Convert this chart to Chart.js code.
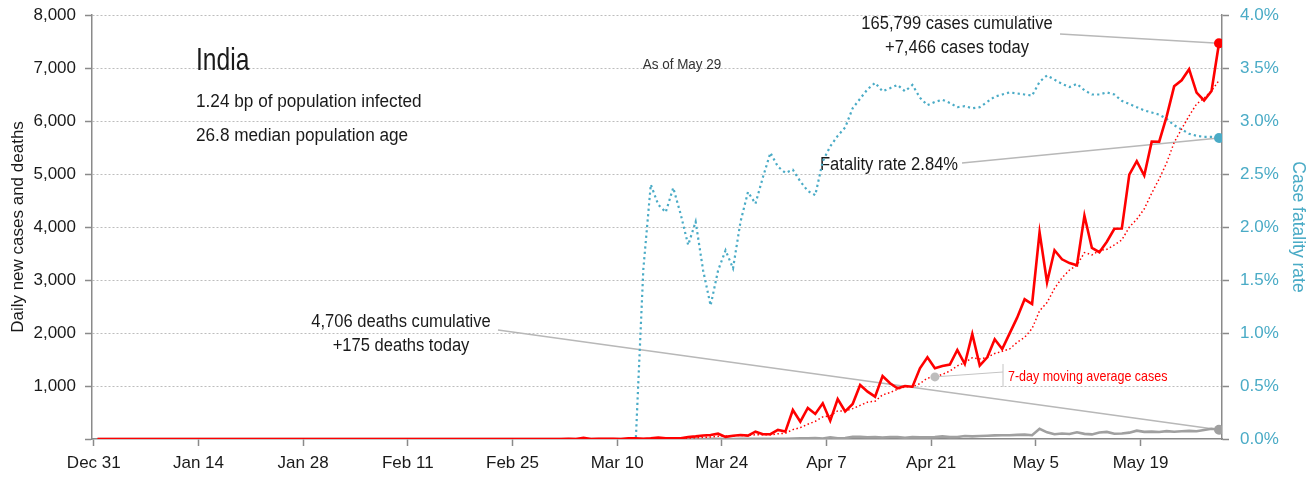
<!DOCTYPE html>
<html>
<head>
<meta charset="utf-8">
<script src="https://cdn.jsdelivr.net/npm/chart.js@4.4.1/dist/chart.umd.min.js"></script>
<style>
html,body{margin:0;padding:0;background:#fff;}
#wrap{width:1312px;height:480px;position:relative;}
</style>
</head>
<body>
<div id="wrap"><canvas id="c"></canvas></div>
<script>
// ---- data (day 0 = Dec 31, day 150 = May 29) ----
const dailyCases = [
  0,0,0,0,0,0,0,0,0,0,
  0,0,0,0,0,0,0,0,0,0,
  0,0,0,0,0,0,0,0,0,0,
  1,0,0,1,1,0,0,0,0,0,
  0,0,0,0,0,0,0,0,0,0,
  0,0,0,0,0,0,0,0,0,0,
  0,0,0,2,1,22,1,3,5,4,
  1,12,13,6,12,25,12,11,14,37,
  50,67,75,100,40,60,75,63,138,90,
  90,170,140,547,326,585,472,673,345,755,
  522,660,1019,893,799,1189,1051,956,1000,987,
  1334,1541,1334,1377,1403,1679,1415,1981,1384,1541,
  1881,1698,1994,2289,2636,2547,3900,2958,3561,3390,
  3320,3277,4213,3604,3525,3722,3967,3970,4987,5242,
  4970,5611,5609,6088,6654,6767,6977,6535,6387,6566,
  7466
];
const movingAvgCases = [
  0,0,0,0,0,0,0,0,0,0,
  0,0,0,0,0,0,0,0,0,0,
  0,0,0,0,0,0,0,0,0,0,
  0.1,0.1,0.1,0.3,0.4,0.4,0.4,0.3,0.3,0.3,
  0.1,0,0,0,0,0,0,0,0,0,
  0,0,0,0,0,0,0,0,0,0,
  0,0,0,0.3,0.4,3.6,3.7,4.1,4.9,5.4,
  5.3,6.9,5.6,6.3,7.6,10.4,11.6,13,13.3,16.7,
  23,30.9,38,50.6,54.7,61.3,66.7,68.6,78.7,80.9,
  79.4,98,109.4,176.9,214.4,278.3,332.9,416.1,441.1,529,
  525.4,573.1,635.1,695.3,713.3,833.9,876.1,938.1,986.7,982.1,
  1045.1,1151.1,1171.9,1218.4,1282.3,1379.3,1440.4,1532.9,1510.4,1540,
  1612,1654.1,1699.1,1824,1917.6,2083.7,2420.7,2574.6,2840.7,3040.1,
  3187.4,3279,3517,3474.7,3555.7,3578.7,3661.1,3754,3998.3,4145.3,
  4340.4,4638.4,4908,5211,5594.4,5848.7,6096.6,6320.1,6431,6567.7,
  6764.6
];
const dailyDeaths = [
  0,0,0,0,0,0,0,0,0,0,
  0,0,0,0,0,0,0,0,0,0,
  0,0,0,0,0,0,0,0,0,0,
  0,0,0,0,0,0,0,0,0,0,
  0,0,0,0,0,0,0,0,0,0,
  0,0,0,0,0,0,0,0,0,0,
  0,0,0,0,0,0,0,0,0,0,
  0,0,1,0,1,0,0,1,0,0,
  1,0,3,2,1,1,4,3,4,6,
  4,3,3,9,15,12,20,7,32,14,
  17,40,40,34,35,28,39,39,23,36,
  31,31,36,50,36,37,57,49,56,62,
  69,71,72,77,83,72,194,126,89,103,
  95,128,97,87,122,134,100,103,120,157,
  134,140,132,148,137,147,154,146,170,194,
  175
];
const fatalityRatePct = [
  0,0,0,0,0,0,0,0,0,0,
  0,0,0,0,0,0,0,0,0,0,
  0,0,0,0,0,0,0,0,0,0,
  0,0,0,0,0,0,0,0,0,0,
  0,0,0,0,0,0,0,0,0,0,
  0,0,0,0,0,0,0,0,0,0,
  0,0,0,0,0,0,0,0,0,0,
  0,0,0,1.6,2.4,2.21,2.14,2.37,2.12,1.83,
  2.05,1.59,1.26,1.59,1.78,1.61,2.05,2.33,2.22,2.47,
  2.70,2.57,2.51,2.54,2.43,2.34,2.30,2.62,2.76,2.86,
  2.94,3.12,3.21,3.30,3.36,3.28,3.31,3.34,3.28,3.34,
  3.22,3.15,3.18,3.20,3.17,3.13,3.14,3.12,3.13,3.18,
  3.23,3.25,3.27,3.26,3.25,3.24,3.37,3.43,3.39,3.35,
  3.32,3.35,3.29,3.25,3.25,3.27,3.25,3.19,3.16,3.13,
  3.10,3.08,3.06,3.02,2.96,2.92,2.88,2.86,2.85,2.85,
  2.84
];
const tickDays = [0,14,28,42,56,70,84,98,112,126,140];
const tickLabels = ['Dec 31','Jan 14','Jan 28','Feb 11','Feb 25','Mar 10','Mar 24','Apr 7','Apr 21','May 5','May 19'];
const maNoteDay = 112;

// ---- styling ----
const REG = "'Liberation Sans',Arial,sans-serif";
const RED = '#ff0000', TEAL = '#4aabc6', GRAY = '#a0a0a0', AXIS = '#8a8a8a', INK = '#1a1a1a';
const DAY_OFFSET = 0.5;
const last = dailyCases.length - 1;
const toXY = arr => arr.map((v, i) => ({x: i + DAY_OFFSET, y: v}));
const endDot = r => c => c.dataIndex === last ? r : 0;

function seg(ctx, x1, y1, x2, y2){ctx.beginPath();ctx.moveTo(x1,y1);ctx.lineTo(x2,y2);ctx.stroke();}
function txt(ctx, s, x, y, size, align, sx, color){
  ctx.save();
  ctx.font = `${size}px ${REG}`;
  ctx.fillStyle = color;
  ctx.textAlign = align;
  ctx.textBaseline = 'alphabetic';
  ctx.translate(x, y);
  ctx.scale(sx, 1);
  ctx.fillText(s, 0, 0);
  ctx.restore();
}

const notes = {
  id: 'notes',
  beforeDatasetsDraw(chart){
    const {ctx, scales:{x, y, y2}} = chart;
    const xl = x.getPixelForValue(last + DAY_OFFSET);
    txt(ctx, 'India', 196, 70, 32, 'left', 0.77, INK);
    txt(ctx, '1.24 bp of population infected', 196, 107, 18, 'left', 0.955, INK);
    txt(ctx, '26.8 median population age', 196, 141, 18, 'left', 0.955, INK);
    txt(ctx, 'Fatality rate 2.84%', 820, 170, 18, 'left', 0.92, INK);
    txt(ctx, '165,799 cases cumulative', 957, 29, 18, 'center', 0.92, INK);
    txt(ctx, '+7,466 cases today', 957, 53, 18, 'center', 0.92, INK);
    txt(ctx, '4,706 deaths cumulative', 401, 327, 18, 'center', 0.92, INK);
    txt(ctx, '+175 deaths today', 401, 351, 18, 'center', 0.92, INK);
    txt(ctx, 'As of May 29', 682, 69, 14.5, 'center', 0.93, '#333');
    txt(ctx, '7-day moving average cases', 1008, 381, 14.5, 'left', 0.86, RED);
    ctx.save();
    ctx.strokeStyle = '#b8b8b8';
    ctx.lineWidth = 1.6;
    seg(ctx, 1060, 34, xl, y.getPixelForValue(dailyCases[last]));
    seg(ctx, 962, 163, xl, y2.getPixelForValue(fatalityRatePct[last]));
    seg(ctx, 498, 330, xl, y.getPixelForValue(dailyDeaths[last]));
    const mx = x.getPixelForValue(maNoteDay + DAY_OFFSET), my = y.getPixelForValue(movingAvgCases[maNoteDay]);
    ctx.lineWidth = 1;
    ctx.strokeStyle = '#c4c4c4';
    seg(ctx, mx, my, 1003, 372);
    seg(ctx, 1003, 364, 1003, 387);
    ctx.restore();
  },
  afterDatasetsDraw(chart){
    const {ctx, scales:{x, y}} = chart;
    const mx = x.getPixelForValue(maNoteDay + DAY_OFFSET), my = y.getPixelForValue(movingAvgCases[maNoteDay]);
    ctx.save();
    ctx.fillStyle = '#bdbdbd';
    ctx.beginPath(); ctx.arc(mx, my, 4.5, 0, Math.PI*2); ctx.fill();
    ctx.restore();
  }
};

new Chart(document.getElementById('c'), {
  type: 'line',
  data: {
    datasets: [
      {label:'Daily new cases', data: toXY(dailyCases), yAxisID:'y', borderColor:RED, borderWidth:2.6,
       pointRadius:endDot(5), pointBackgroundColor:RED, pointBorderWidth:0, tension:0},
      {label:'7-day moving average cases', data: toXY(movingAvgCases), yAxisID:'y', borderColor:RED, borderWidth:1.5,
       borderDash:[1.5,2.5], pointRadius:0, tension:0},
      {label:'Daily deaths', data: toXY(dailyDeaths), yAxisID:'y', borderColor:GRAY, borderWidth:2.6,
       pointRadius:endDot(5), pointBackgroundColor:GRAY, pointBorderWidth:0, tension:0},
      {label:'Case fatality rate', data: toXY(fatalityRatePct), yAxisID:'y2', borderColor:TEAL, borderWidth:2.2,
       borderDash:[2.2,3.2], pointRadius:endDot(5), pointBackgroundColor:TEAL, pointBorderWidth:0, tension:0}
    ]
  },
  options: {
    responsive:true, maintainAspectRatio:false, animation:false,
    layout:{padding:{top:15,left:0,right:0,bottom:0}},
    plugins:{legend:{display:false}, tooltip:{enabled:false}},
    events:[],
    scales:{
      x:{
        type:'linear', position:'bottom', min:-0.24, max:150.9,
        afterBuildTicks: s => { s.ticks = tickDays.map(v => ({value:v})); },
        ticks:{callback: v => tickLabels[tickDays.indexOf(v)], autoSkip:false, maxRotation:0, minRotation:0,
               font:{family:REG, size:17}, color:INK, padding:7},
        grid:{drawOnChartArea:false, drawTicks:true, tickLength:7, tickColor:AXIS, tickWidth:1.5},
        border:{display:true, color:AXIS, width:1.5},
        afterFit: s => { s.height = 41; s.paddingLeft = 0; s.paddingRight = 0; }
      },
      y:{
        type:'linear', position:'left', min:0, max:8000,
        ticks:{stepSize:1000, callback: v => v === 0 ? '' : v.toLocaleString('en-US'),
               font:{family:REG, size:17}, color:INK, padding:9},
        grid:{color: c => c.tick && c.tick.value === 0 ? 'rgba(0,0,0,0)' : '#bdbdbd', lineWidth:1,
              tickColor:AXIS, tickLength:7, tickWidth:1.5},
        border:{display:true, color:AXIS, width:1.5, dash:[2,2]},
        title:{display:true, text:'Daily new cases and deaths', color:INK, font:{family:REG, size:17}, padding:{top:8,bottom:0}},
        afterFit: s => { s.width = 92; s.paddingTop = 0; s.paddingBottom = 0; }
      },
      y2:{
        type:'linear', position:'right', min:0, max:4,
        ticks:{stepSize:0.5, callback: v => v.toFixed(1) + '%', font:{family:REG, size:17}, color:TEAL, padding:11},
        grid:{drawOnChartArea:false, tickColor:AXIS, tickLength:7, tickWidth:1.5},
        border:{display:true, color:AXIS, width:1.5},
        title:{display:true, text:'Case fatality rate', color:TEAL, font:{family:REG, size:17.5}, padding:{top:4,bottom:4}},
        afterFit: s => { s.width = 90; s.paddingTop = 0; s.paddingBottom = 0; }
      }
    }
  },
  plugins:[notes]
});
</script>
</body>
</html>
